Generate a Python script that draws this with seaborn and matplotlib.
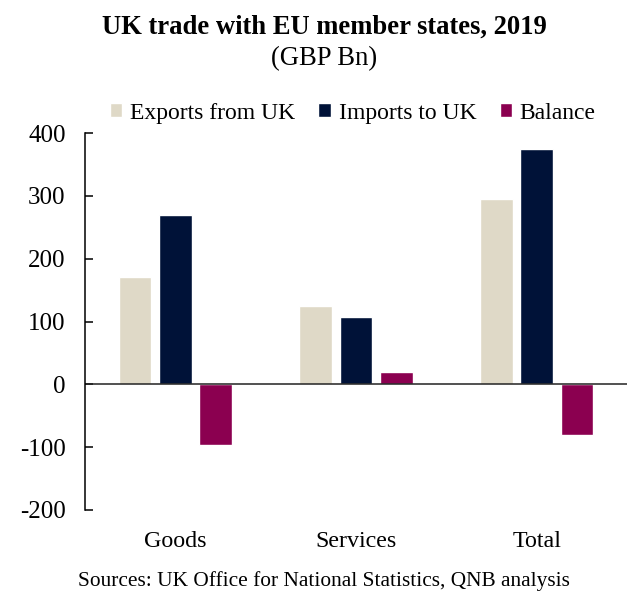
import pandas as pd
import matplotlib
matplotlib.use("Agg")
import matplotlib.pyplot as plt
import seaborn as sns

categories = ["Goods", "Services", "Total"]
series_names = ["Exports from UK", "Imports to UK", "Balance"]
exports = [171, 124, 295]
imports = [270, 107, 374]
balance = [-97, 19, -81]
colours = ["#DFD9C7", "#001238", "#8B0050"]
y_ticks = [-200, -100, 0, 100, 200, 300, 400]

sns.set_theme(style="white")
plt.rcParams["font.family"] = ["Liberation Serif", "DejaVu Serif"]
plt.rcParams["axes.unicode_minus"] = False
plt.rcParams["text.color"] = "black"

tabla = pd.DataFrame({
    "categoria": categories * 3,
    "serie": [s for s in series_names for _ in categories],
    "valor": exports + imports + balance,
})

fig = plt.figure(figsize=(6.43, 5.99), dpi=100)
ax = fig.add_axes([85 / 643, 1 - 510 / 599, 542 / 643, 377 / 599])

sns.barplot(data=tabla, x="categoria", y="valor", hue="serie", order=categories,
            hue_order=series_names, palette=colours, saturation=1, width=0.67,
            gap=0.19, ax=ax)

ax.set_ylim(-200, 400)
ax.set_yticks(y_ticks)
ax.set_xlabel("")
ax.set_ylabel("")
ax.tick_params(axis="y", labelsize=18, left=True, direction="in", length=5.8, width=1.1,
               color="black", labelcolor="black", pad=14)
ax.tick_params(axis="x", labelsize=17.3, bottom=False, labelcolor="black", pad=9)
for lado in ["top", "right", "bottom"]:
    ax.spines[lado].set_visible(False)
ax.spines["left"].set_color("black")
ax.spines["left"].set_linewidth(1.1)
ax.axhline(0, color="#222222", linewidth=1.1)

ax.legend(loc="center", bbox_to_anchor=(0.494, 1.053), ncol=3, frameon=False,
          fontsize=17, handlelength=0.52, handleheight=0.52, columnspacing=1.0,
          handletextpad=0.33, borderaxespad=0, borderpad=0)

fig.text(324 / 643, 1 - 27 / 599, "UK trade with EU member states, 2019", ha="center",
         va="center", fontsize=19.2, fontweight="bold", color="black")
fig.text(324 / 643, 1 - 59 / 599, "(GBP Bn)", ha="center", va="center", fontsize=19.2, color="black")
fig.text(324 / 643, 1 - 581 / 599, "Sources: UK Office for National Statistics, QNB analysis",
         ha="center", va="center", fontsize=15.4, color="black")

fig.savefig("out.png", dpi=100)
